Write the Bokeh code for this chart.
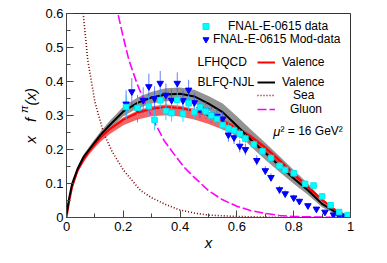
import math
from bokeh.plotting import figure
from bokeh.layouts import row
from bokeh.models import (Range1d, FixedTicker, CustomJSTickFormatter, Label, Legend, LegendItem)
from bokeh.embed import file_html
from bokeh.resources import INLINE

# ---------------- data ----------------
x_ticks = [0, 0.2, 0.4, 0.6, 0.8, 1.0]
x_minor = [0.1, 0.3, 0.5, 0.7, 0.9]
y_ticks = [0, 0.1, 0.2, 0.3, 0.4, 0.5, 0.6]
y_minor = [0.05, 0.15, 0.25, 0.35, 0.45, 0.55]

xs = [0, 0.01, 0.02, 0.04, 0.06, 0.08, 0.1, 0.12, 0.15, 0.2, 0.25, 0.3, 0.35, 0.4,
      0.45, 0.5, 0.55, 0.6, 0.65, 0.7, 0.75, 0.8, 0.85, 0.9, 0.95, 1.0]
blfq_val = [0.01, 0.06, 0.10, 0.145, 0.178, 0.20, 0.222, 0.243, 0.27, 0.312, 0.337, 0.353, 0.362,
            0.364, 0.356, 0.335, 0.31, 0.27, 0.228, 0.19, 0.152, 0.115, 0.08, 0.04, 0.014, 0.0]
blfq_hi = [0.012, 0.064, 0.105, 0.151, 0.185, 0.208, 0.231, 0.253, 0.282, 0.326, 0.353, 0.370, 0.380,
           0.382, 0.376, 0.357, 0.335, 0.298, 0.258, 0.22, 0.18, 0.14, 0.10, 0.054, 0.021, 0.0]
blfq_lo = [0.008, 0.056, 0.095, 0.139, 0.171, 0.192, 0.213, 0.233, 0.258, 0.298, 0.321, 0.335, 0.342,
           0.344, 0.336, 0.315, 0.29, 0.25, 0.208, 0.17, 0.134, 0.099, 0.067, 0.03, 0.009, 0.0]
lfh_val = [0.0, 0.05, 0.09, 0.14, 0.17, 0.195, 0.215, 0.235, 0.258, 0.288, 0.308, 0.32, 0.325,
           0.322, 0.313, 0.3, 0.283, 0.262, 0.237, 0.205, 0.168, 0.128, 0.09, 0.052, 0.02, 0.0]
lfh_hi = [0.0, 0.052, 0.093, 0.144, 0.174, 0.2, 0.22, 0.24, 0.264, 0.294, 0.315, 0.327, 0.332,
          0.329, 0.32, 0.307, 0.29, 0.269, 0.244, 0.212, 0.175, 0.134, 0.095, 0.056, 0.022, 0.0]
lfh_lo = [0.0, 0.047, 0.085, 0.133, 0.162, 0.186, 0.205, 0.223, 0.244, 0.271, 0.288, 0.298, 0.301,
          0.297, 0.288, 0.275, 0.259, 0.24, 0.217, 0.187, 0.153, 0.116, 0.081, 0.046, 0.017, 0.0]

x_sea = [0.055, 0.06, 0.075, 0.1, 0.13, 0.16, 0.2, 0.23, 0.26, 0.3, 0.35, 0.4, 0.45, 0.5,
         0.6, 0.7, 0.8, 0.9, 1.0]
y_sea = [0.645, 0.59, 0.462, 0.34, 0.25, 0.195, 0.14, 0.11, 0.08, 0.058, 0.038, 0.022, 0.013,
         0.007, 0.003, 0.001, 0.0005, 0.0, 0.0]

x_glu = [0.175, 0.181, 0.2, 0.22, 0.25, 0.28, 0.31, 0.344, 0.38, 0.414, 0.45, 0.5, 0.55, 0.6,
         0.65, 0.7, 0.75, 0.8, 0.9, 1.0]
y_glu = [0.63, 0.6, 0.53, 0.462, 0.39, 0.33, 0.28, 0.226, 0.185, 0.148, 0.118, 0.079, 0.052,
         0.033, 0.02, 0.012, 0.006, 0.003, 0.001, 0.0]

x_e615 = [0.21, 0.25, 0.29, 0.31, 0.33, 0.35, 0.37, 0.39, 0.41, 0.43, 0.45, 0.47, 0.49, 0.51,
          0.53, 0.55, 0.57, 0.59, 0.61, 0.63, 0.66, 0.69, 0.72, 0.75, 0.77, 0.80, 0.84, 0.87,
          0.90, 0.93, 0.96, 0.99]
y_e615 = [0.325, 0.322, 0.327, 0.287, 0.345, 0.313, 0.307, 0.346, 0.305, 0.336, 0.31, 0.324,
          0.312, 0.30, 0.29, 0.272, 0.262, 0.256, 0.246, 0.232, 0.215, 0.195, 0.175, 0.152,
          0.14, 0.13, 0.099, 0.094, 0.062, 0.036, 0.016, 0.007]
e_e615 = [0.035, 0.03, 0.03, 0.03, 0.028, 0.026, 0.025, 0.025, 0.024, 0.022, 0.022, 0.02, 0.02,
          0.018, 0.018, 0.016, 0.016, 0.015, 0.014, 0.013, 0.012, 0.012, 0.011, 0.01, 0.01,
          0.009, 0.008, 0.008, 0.007, 0.006, 0.005, 0.004]

x_mod = [0.21, 0.23, 0.25, 0.27, 0.29, 0.31, 0.33, 0.35, 0.37, 0.39, 0.41, 0.43, 0.45, 0.47,
         0.49, 0.51, 0.53, 0.55, 0.57, 0.59, 0.61, 0.63, 0.67, 0.70, 0.72, 0.75, 0.77, 0.80,
         0.82, 0.85, 0.88, 0.91, 0.94, 0.96, 0.98, 0.99]
y_mod = [0.334, 0.37, 0.32, 0.345, 0.385, 0.35, 0.395, 0.36, 0.345, 0.395, 0.344, 0.375, 0.338,
         0.318, 0.315, 0.302, 0.298, 0.29, 0.243, 0.235, 0.21, 0.2, 0.168, 0.138, 0.118, 0.082,
         0.07, 0.058, 0.048, 0.035, 0.025, 0.016, 0.008, 0.004, 0.002, 0.001]
e_mod = [0.04, 0.04, 0.04, 0.038, 0.038, 0.036, 0.036, 0.034, 0.032, 0.032, 0.03, 0.03, 0.028,
         0.026, 0.025, 0.024, 0.022, 0.022, 0.02, 0.019, 0.018, 0.017, 0.015, 0.013, 0.012,
         0.011, 0.01, 0.009, 0.008, 0.007, 0.006, 0.005, 0.004, 0.003, 0.002, 0.002]

FONT = "Liberation Sans"
TITLE_W = 40

p = figure(width=387 - TITLE_W, height=263, output_backend="svg", toolbar_location=None,
           x_range=Range1d(0, 1), y_range=Range1d(0, 0.6),
           min_border_left=66 - TITLE_W, min_border_right=37, min_border_top=13,
           min_border_bottom=46)
p.xgrid.visible = False
p.ygrid.visible = False
p.outline_line_color = "#333333"
p.outline_line_width = 1
p.background_fill_color = "white"
p.border_fill_color = "white"

fmt = CustomJSTickFormatter(code="""
if (Math.abs(tick) < 1e-9) return '0';
if (Math.abs(tick - 1) < 1e-9) return '1';
return tick.toFixed(1);
""")
p.xaxis.ticker = FixedTicker(ticks=x_ticks, minor_ticks=x_minor)
p.yaxis.ticker = FixedTicker(ticks=y_ticks, minor_ticks=y_minor)
for ax in (p.xaxis[0], p.yaxis[0]):
    ax.formatter = fmt
    ax.major_tick_in = 7
    ax.major_tick_out = 0
    ax.minor_tick_in = 4
    ax.minor_tick_out = 0
    ax.axis_line_color = "#444444"
    ax.major_tick_line_color = "#444444"
    ax.minor_tick_line_color = "#444444"
    ax.major_label_text_font = FONT
    ax.major_label_text_font_size = "13px"
    ax.major_label_text_color = "black"
p.yaxis.major_label_standoff = 3
p.xaxis.major_label_standoff = 4
p.xaxis.axis_label = "x"
p.xaxis.axis_label_text_font = FONT
p.xaxis.axis_label_text_font_style = "italic"
p.xaxis.axis_label_text_font_size = "15px"
p.xaxis.axis_label_text_color = "black"
p.xaxis.axis_label_standoff = 0

# bands
p.varea(x=xs, y1=blfq_lo, y2=blfq_hi, fill_color="#808080", fill_alpha=0.85)
p.varea(x=xs, y1=lfh_lo, y2=lfh_hi, fill_color="#ee2828", fill_alpha=0.72)

# curves
r_sea = p.line(x_sea, y_sea, line_color="#800000", line_width=1.6, line_dash="1 2")
r_glu = p.line(x_glu, y_glu, line_color="#ff00ff", line_width=1.6, line_dash="9 3")
r_lfh = p.line(xs, lfh_val, line_color="#ff0000", line_width=2)
r_blfq = p.line(xs, blfq_val, line_color="black", line_width=2)

# data with error bars
p.segment(x0=x_mod, x1=x_mod, y0=[a - b for a, b in zip(y_mod, e_mod)],
          y1=[a + b for a, b in zip(y_mod, e_mod)], line_color="#3355ff", line_alpha=0.75, line_width=1)
p.segment(x0=x_e615, x1=x_e615, y0=[a - b for a, b in zip(y_e615, e_e615)],
          y1=[a + b for a, b in zip(y_e615, e_e615)], line_color="#22ccff", line_alpha=0.85, line_width=1)
r_mod = p.scatter(x_mod, y_mod, marker="inverted_triangle", size=6.5, fill_color="#0000ff",
                  line_color="#0000ff")
r_e615 = p.scatter(x_e615, y_e615, marker="square", size=5.5, fill_color="#00ffff",
                   line_color="#00e8f0")


def row_legend(renderer, label, vx, vy, gw, gh, standoff):
    lg = Legend(items=[LegendItem(label=label, renderers=[renderer])], location=(vx, vy),
                glyph_width=gw, glyph_height=gh, label_height=gh, label_standoff=standoff,
                padding=0, margin=0, spacing=0, border_line_color=None,
                background_fill_alpha=0, label_text_font=FONT, label_text_font_size="12px",
                label_text_color="black")
    p.add_layout(lg)


row_legend(r_e615, "FNAL-E-0615 data", 132, 183, 15, 16, 15)
row_legend(r_mod, "FNAL-E-0615 Mod-data", 132, 170, 15, 16, 0)
row_legend(r_lfh, "Valence", 191, 147, 18, 16, 7)
row_legend(r_blfq, "Valence", 191, 127, 18, 16, 7)
row_legend(r_sea, "Sea", 191, 114, 18, 16, 18)
row_legend(r_glu, "Gluon", 191, 100, 18, 16, 15)


def lab(fig, text, x, y, size="12px", style="normal", align="left", baseline="middle", angle=0.0):
    fig.add_layout(Label(x=x, y=y, x_units="screen", y_units="screen", text=text,
                         text_font=FONT, text_font_size=size, text_font_style=style,
                         text_align=align, text_baseline=baseline, angle=angle,
                         text_color="black"))


lab(p, "LFHQCD", 131, 155.3)
lab(p, "BLFQ-NJL", 131, 135.3)
lab(p, "\u03bc", 206.7, 86.3, size="13px", style="italic")
lab(p, "\u00b2 = 16 GeV\u00b2", 214, 86.3, size="12px")

# ---- y-axis title panel:  x f^pi(x)  (frame aligned with the main plot's frame) ----
t = figure(width=TITLE_W, height=263, output_backend="svg", toolbar_location=None,
           x_range=Range1d(0, 1), y_range=Range1d(0, 1), min_border=0,
           x_axis_location=None, y_axis_location=None)
t.xgrid.visible = False
t.ygrid.visible = False
t.outline_line_color = None
t.background_fill_color = "white"
t.border_fill_color = "white"
half = math.pi / 2
lab(t, "x", 30, 74, size="15px", style="italic", angle=half)
lab(t, "f", 30, 95.5, size="15px", style="italic", angle=half)
lab(t, "\u03c0", 23.5, 104.5, size="11px", style="italic", angle=half)
lab(t, "(x)", 30, 112, size="15px", style="italic", angle=half)

layout = row(t, p, spacing=0)
open("out.html", "w").write(file_html(layout, INLINE))
